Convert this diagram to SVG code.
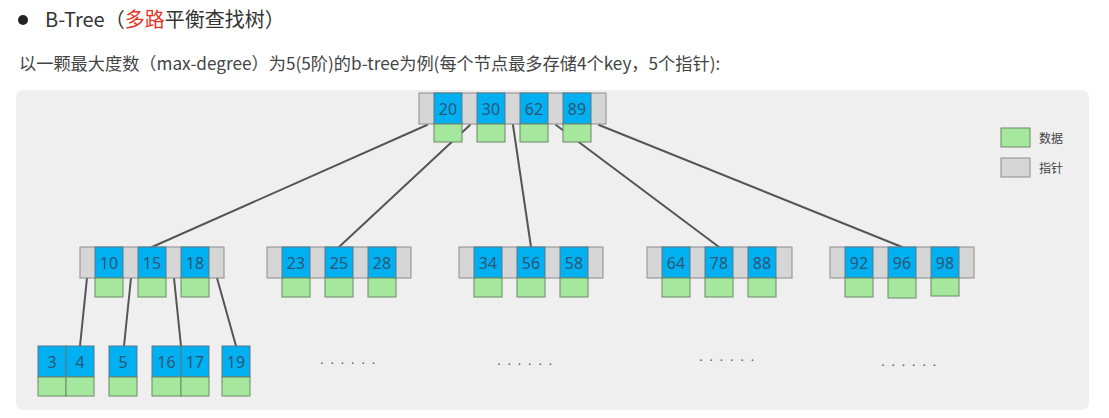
<svg xmlns="http://www.w3.org/2000/svg" width="1109" height="418" viewBox="0 0 1109 418">
<style>
.ptr{fill:#d6d6d6;stroke:#8c8c8c;stroke-width:1}
.key{fill:#00b0f0;stroke:#5a7a8a;stroke-width:1}
.dat{fill:#a6e79e;stroke:#6a8a66;stroke-width:1}
.kt{font-family:"Noto Sans","DejaVu Sans",sans-serif;font-size:16px;fill:#2f5577;text-anchor:middle}
.ln{stroke:#555;stroke-width:2;fill:none;stroke-linecap:round}
.dots{font-family:"Liberation Sans",sans-serif;font-size:14px;fill:#555;letter-spacing:6.4px}
.cjk{font-family:"Noto Sans CJK SC","Noto Sans",sans-serif}
</style>
<rect width="1109" height="418" fill="#ffffff"/>
<g id="header">
<circle cx="23" cy="20" r="5" fill="#222"/>
<text x="45" y="27" class="cjk" font-size="20" fill="#333">B-Tree（<tspan fill="#e8321e">多路</tspan>平衡查找树）</text>
<text x="19" y="69.5" class="cjk" font-size="17.2" fill="#444">以一颗最大度数（max-degree）为5(5阶)的b-tree为例(每个节点最多存储4个key，5个指针):</text>
</g>
<rect id="panel" x="16" y="90" width="1073" height="320" rx="7" fill="#efefef"/>
<g id="connectors">
<line class="ln" x1="427" y1="125" x2="152" y2="247"/>
<line class="ln" x1="470" y1="125" x2="339" y2="247"/>
<line class="ln" x1="513" y1="125" x2="531" y2="247"/>
<line class="ln" x1="556" y1="125" x2="719" y2="247"/>
<line class="ln" x1="599" y1="125" x2="902" y2="247"/>
<line class="ln" x1="87" y1="278" x2="80" y2="346"/>
<line class="ln" x1="131" y1="278" x2="124" y2="346"/>
<line class="ln" x1="174" y1="278" x2="181" y2="346"/>
<line class="ln" x1="217" y1="278" x2="236" y2="346"/>
</g>
<g id="root">
<rect class="ptr" x="419" y="93" width="187" height="31"/>
<rect class="key" x="434" y="93" width="28" height="31"/>
<rect class="key" x="477" y="93" width="28" height="31"/>
<rect class="key" x="520" y="93" width="28" height="31"/>
<rect class="key" x="563" y="93" width="28" height="31"/>
<rect class="dat" x="434" y="124" width="28" height="18"/>
<rect class="dat" x="477" y="124" width="28" height="18"/>
<rect class="dat" x="520" y="124" width="28" height="18"/>
<rect class="dat" x="563" y="124" width="28" height="18"/>
<text class="kt" x="448" y="114.5">20</text>
<text class="kt" x="491" y="114.5">30</text>
<text class="kt" x="534" y="114.5">62</text>
<text class="kt" x="577" y="114.5">89</text>
</g>
<g id="n10">
<rect class="ptr" x="80" y="247" width="144" height="31"/>
<rect class="key" x="95" y="247" width="28" height="31"/>
<rect class="key" x="138" y="247" width="28" height="31"/>
<rect class="key" x="181" y="247" width="28" height="31"/>
<rect class="dat" x="95" y="278" width="28" height="19"/>
<rect class="dat" x="138" y="278" width="28" height="19"/>
<rect class="dat" x="181" y="278" width="28" height="19"/>
<text class="kt" x="109" y="268.5">10</text>
<text class="kt" x="152" y="268.5">15</text>
<text class="kt" x="195" y="268.5">18</text>
</g>
<g id="n23">
<rect class="ptr" x="267" y="247" width="144" height="31"/>
<rect class="key" x="282" y="247" width="28" height="31"/>
<rect class="key" x="325" y="247" width="28" height="31"/>
<rect class="key" x="368" y="247" width="28" height="31"/>
<rect class="dat" x="282" y="278" width="28" height="19"/>
<rect class="dat" x="325" y="278" width="28" height="19"/>
<rect class="dat" x="368" y="278" width="28" height="19"/>
<text class="kt" x="296" y="268.5">23</text>
<text class="kt" x="339" y="268.5">25</text>
<text class="kt" x="382" y="268.5">28</text>
</g>
<g id="n34">
<rect class="ptr" x="459" y="247" width="144" height="31"/>
<rect class="key" x="474" y="247" width="28" height="31"/>
<rect class="key" x="517" y="247" width="28" height="31"/>
<rect class="key" x="560" y="247" width="28" height="31"/>
<rect class="dat" x="474" y="278" width="28" height="19"/>
<rect class="dat" x="517" y="278" width="28" height="19"/>
<rect class="dat" x="560" y="278" width="28" height="19"/>
<text class="kt" x="488" y="268.5">34</text>
<text class="kt" x="531" y="268.5">56</text>
<text class="kt" x="574" y="268.5">58</text>
</g>
<g id="n64">
<rect class="ptr" x="647" y="247" width="145" height="31"/>
<rect class="key" x="662" y="247" width="28" height="31"/>
<rect class="key" x="705" y="247" width="28" height="31"/>
<rect class="key" x="748" y="247" width="28" height="31"/>
<rect class="dat" x="662" y="278" width="28" height="19"/>
<rect class="dat" x="705" y="278" width="28" height="19"/>
<rect class="dat" x="748" y="278" width="28" height="19"/>
<text class="kt" x="676" y="268.5">64</text>
<text class="kt" x="719" y="268.5">78</text>
<text class="kt" x="762" y="268.5">88</text>
</g>
<g id="n92">
<rect class="ptr" x="830" y="247" width="144" height="31"/>
<rect class="key" x="845" y="247" width="28" height="31"/>
<rect class="key" x="888" y="247" width="28" height="31"/>
<rect class="key" x="931" y="247" width="28" height="31"/>
<rect class="dat" x="845" y="278" width="28" height="19"/>
<rect class="dat" x="888" y="278" width="28" height="20"/>
<rect class="dat" x="931" y="278" width="28" height="18"/>
<text class="kt" x="859" y="268.5">92</text>
<text class="kt" x="902" y="268.5">96</text>
<text class="kt" x="945" y="268.5">98</text>
</g>
<g id="leaf34">
<rect class="key" x="38" y="346" width="28" height="31"/>
<rect class="key" x="66" y="346" width="28" height="31"/>
<rect class="dat" x="38" y="377" width="28" height="19"/>
<rect class="dat" x="66" y="377" width="28" height="19"/>
<text class="kt" x="52" y="367.5">3</text>
<text class="kt" x="80" y="367.5">4</text>
</g>
<g id="leaf5">
<rect class="key" x="109" y="346" width="28" height="31"/>
<rect class="dat" x="109" y="377" width="28" height="19"/>
<text class="kt" x="123" y="367.5">5</text>
</g>
<g id="leaf1617">
<rect class="key" x="152" y="346" width="29" height="31"/>
<rect class="key" x="181" y="346" width="28" height="31"/>
<rect class="dat" x="152" y="377" width="29" height="19"/>
<rect class="dat" x="181" y="377" width="28" height="19"/>
<text class="kt" x="166.5" y="367.5">16</text>
<text class="kt" x="195" y="367.5">17</text>
</g>
<g id="leaf19">
<rect class="key" x="222" y="346" width="28" height="31"/>
<rect class="dat" x="222" y="377" width="28" height="19"/>
<text class="kt" x="236" y="367.5">19</text>
</g>
<g id="ellipses">
<text class="dots" x="320" y="364">......</text>
<text class="dots" x="497" y="365">......</text>
<text class="dots" x="699" y="361">......</text>
<text class="dots" x="881" y="366">......</text>
</g>
<g id="legend">
<rect class="dat" x="1001" y="128" width="29" height="19"/>
<text x="1039" y="142.5" class="cjk" font-size="12" fill="#444">数据</text>
<rect class="ptr" x="1001" y="158" width="29" height="19"/>
<text x="1039" y="172.5" class="cjk" font-size="12" fill="#444">指针</text>
</g>
</svg>
